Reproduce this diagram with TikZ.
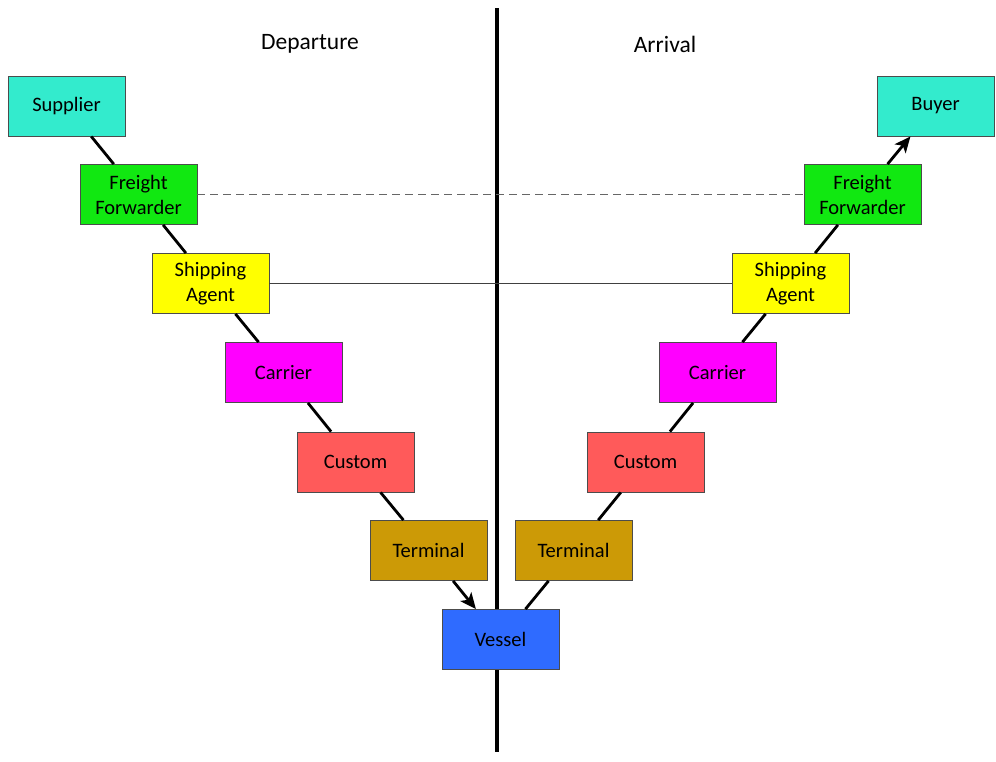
\documentclass[tikz,border=0pt]{standalone}
\usepackage{fontspec}
\setmainfont{Carlito}
\usetikzlibrary{arrows.meta}
\definecolor{cTeal}{RGB}{51,235,205}
\definecolor{cGreen}{RGB}{17,232,17}
\definecolor{cYellow}{RGB}{255,255,0}
\definecolor{cMagenta}{RGB}{255,0,255}
\definecolor{cSalmon}{RGB}{255,90,90}
\definecolor{cGold}{RGB}{204,154,6}
\definecolor{cBlue}{RGB}{47,107,255}
\tikzset{
  party/.style={draw=black!70, line width=0.8pt, minimum width=117pt, minimum height=60pt,
    inner sep=0pt, align=center, font=\fontsize{20.5}{25}\selectfont},
  link/.style={line width=2.8pt, black},
  linkarrow/.style={link, -{Stealth[length=16pt,width=14pt,inset=4pt]}},
  header/.style={font=\fontsize{23.5}{28}\selectfont},
}
\begin{document}
\begin{tikzpicture}[x=1pt,y=-1pt]
\useasboundingbox (0,0) rectangle (996,761);

% central divider
\coordinate (divtop) at (497,8);
\coordinate (divbot) at (497,752);
\draw[line width=4.5pt] (divtop) -- (divbot);

\node[header] (dep) at (310,44) {Departure};
\node[header] (arr) at (665,44) {Arrival};

% departure side
\node[party, fill=cTeal]    (sup)  at (66.5,106)   {Supplier};
\node[party, fill=cGreen]   (ffl)  at (138.5,194.5) {Freight\\Forwarder};
\node[party, fill=cYellow]  (sal)  at (210.5,283.5) {Shipping\\Agent};
\node[party, fill=cMagenta] (carl) at (283.5,372.5) {Carrier};
\node[party, fill=cSalmon]  (cusl) at (355.5,462)   {Custom};
\node[party, fill=cGold]    (terl) at (428.5,550.5) {Terminal};
\node[party, fill=cBlue]    (ves)  at (500.5,639.5) {Vessel};

% arrival side
\node[party, fill=cGold]    (terr) at (573.5,550.5) {Terminal};
\node[party, fill=cSalmon]  (cusr) at (645.5,462)   {Custom};
\node[party, fill=cMagenta] (carr) at (717.5,372.5) {Carrier};
\node[party, fill=cYellow]  (sar)  at (790.5,283.5) {Shipping\\Agent};
\node[party, fill=cGreen]   (ffr)  at (862.5,194.5) {Freight\\Forwarder};
\node[party, fill=cTeal]    (buy)  at (935.5,106)   {Buyer};

% horizontal links across the divider
\draw[black!60, line width=1.6pt, dash pattern=on 8pt off 5pt] (ffl.east) -- (ffr.west);
\draw[black!75, line width=1.1pt] (sal.east) -- (sar.west);

% chain
\draw[link] (sup) -- (ffl);
\draw[link] (ffl) -- (sal);
\draw[link] (sal) -- (carl);
\draw[link] (carl) -- (cusl);
\draw[link] (cusl) -- (terl);
\draw[linkarrow] (terl) -- (ves);
\draw[link] (ves) -- (terr);
\draw[link] (terr) -- (cusr);
\draw[link] (cusr) -- (carr);
\draw[link] (carr) -- (sar);
\draw[link] (sar) -- (ffr);
\draw[linkarrow] (ffr) -- (buy);
\end{tikzpicture}
\end{document}
